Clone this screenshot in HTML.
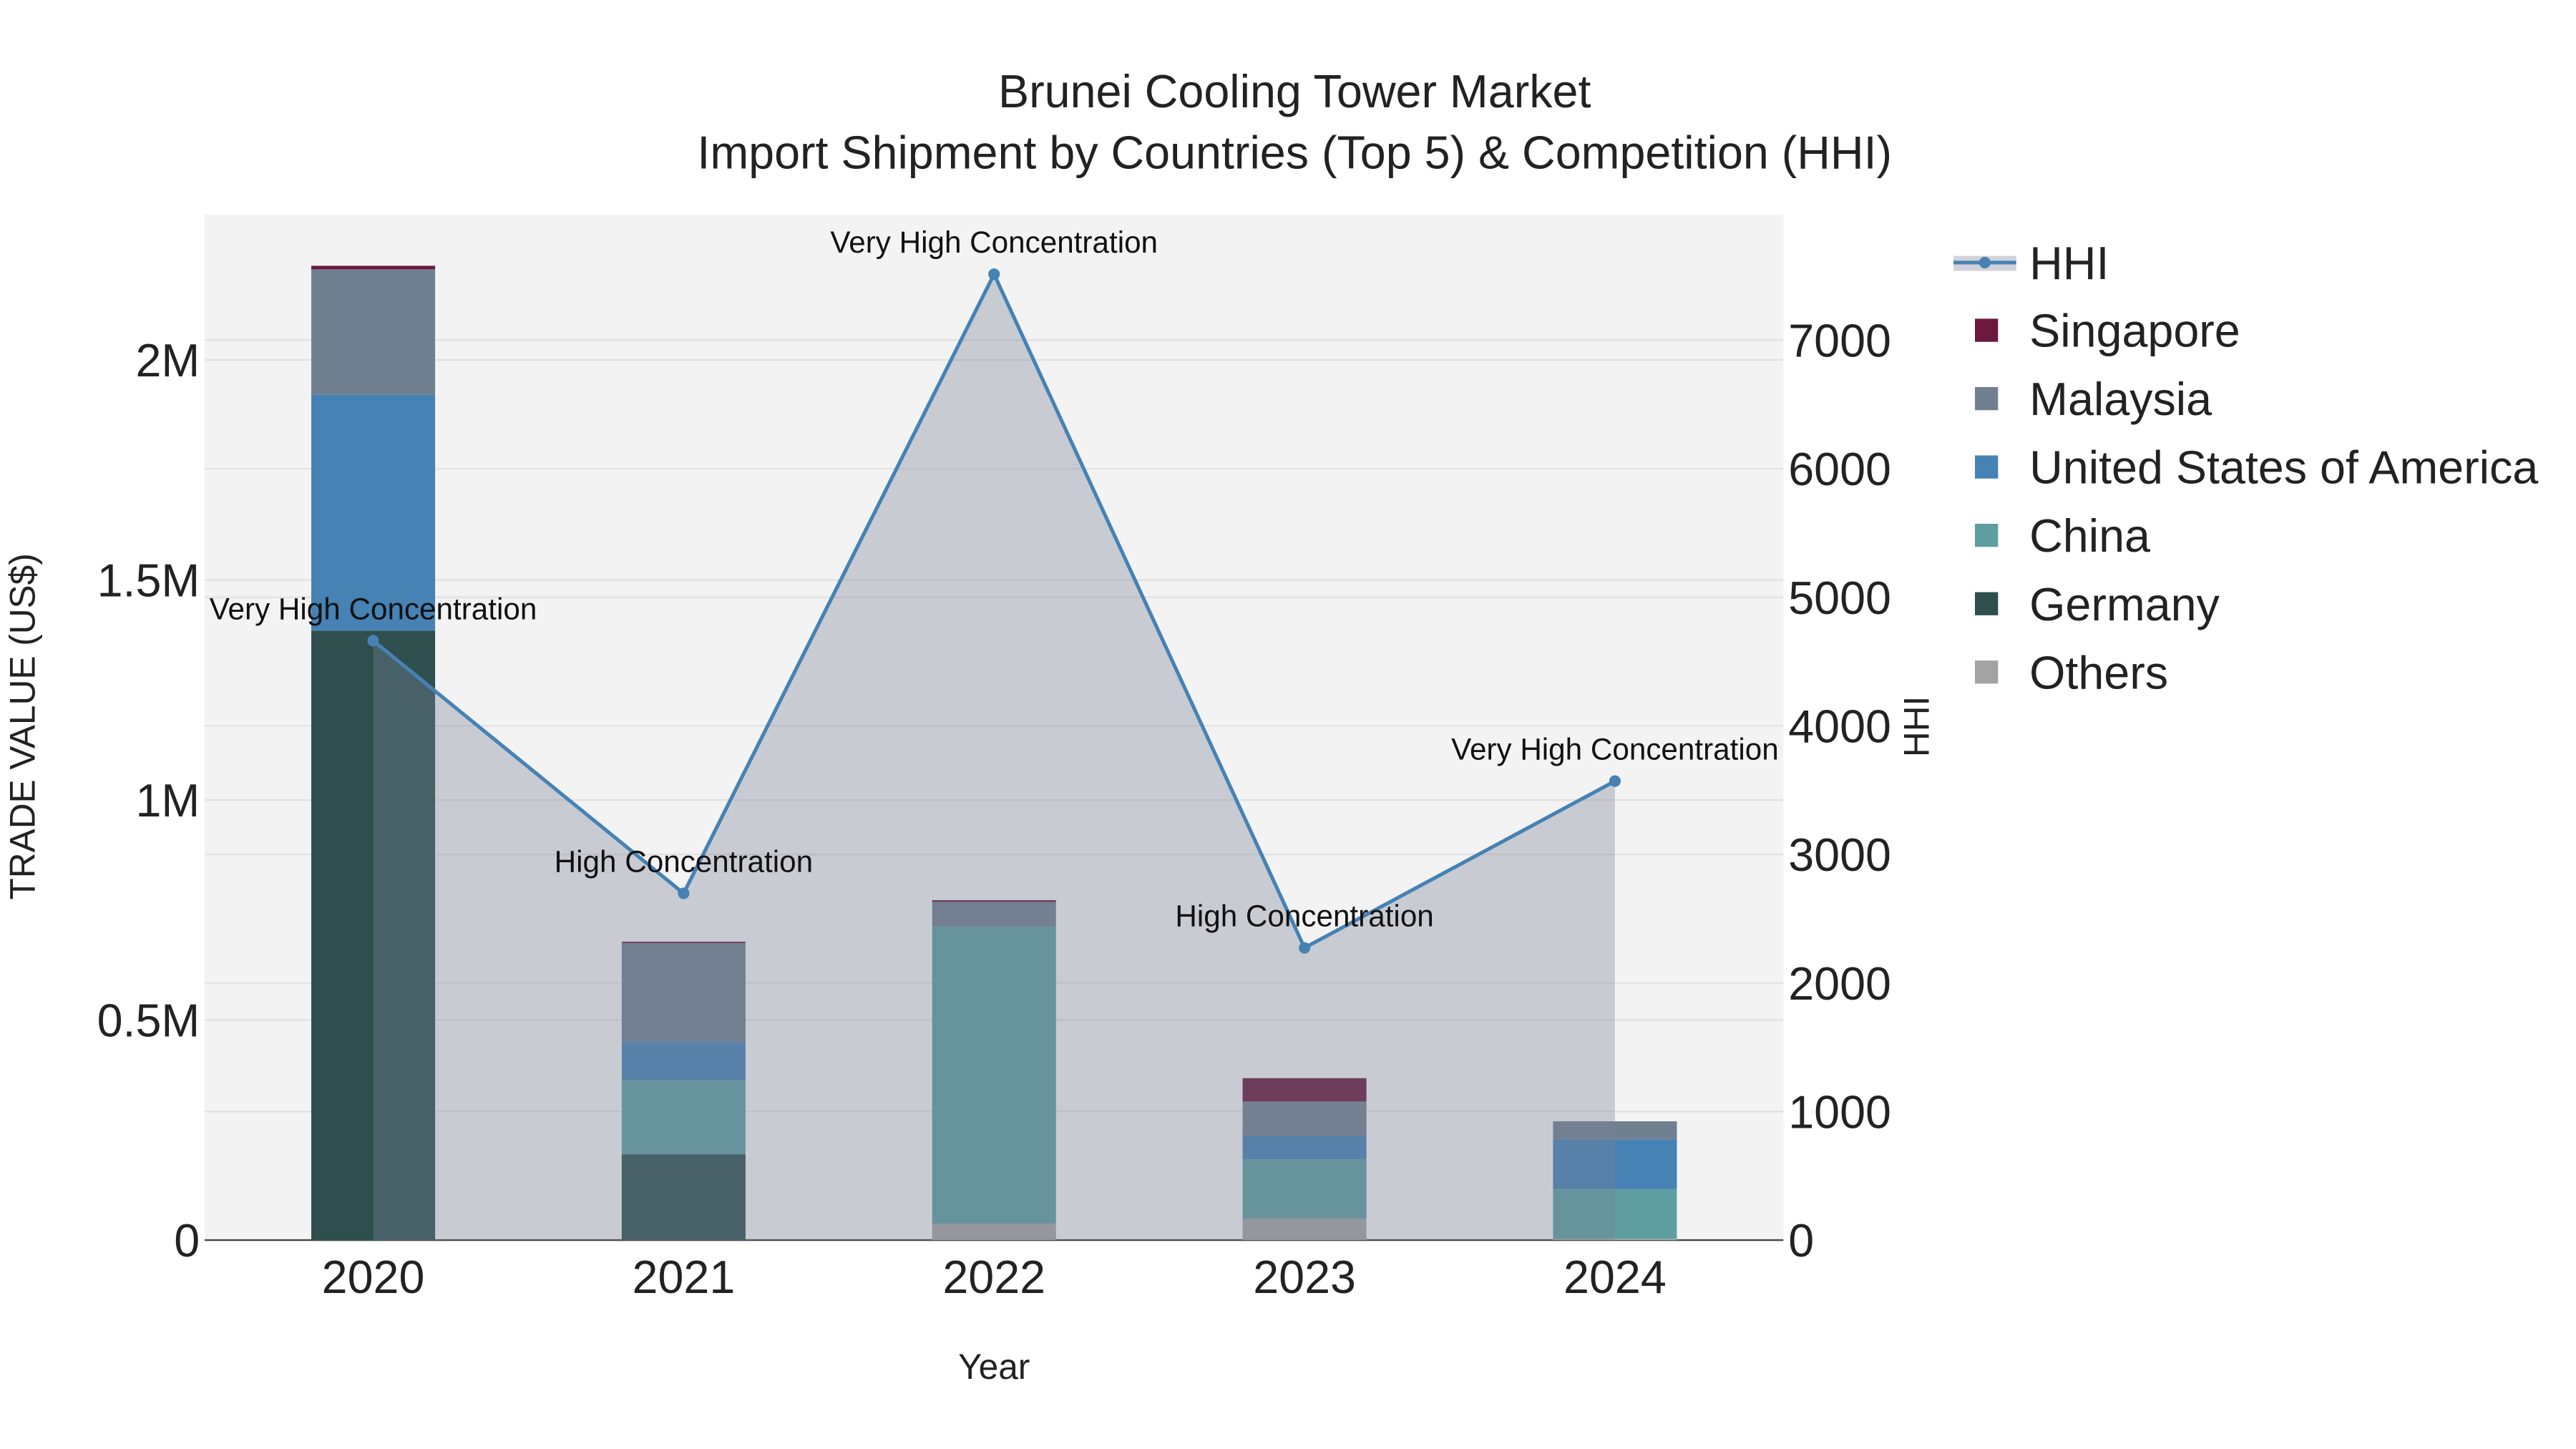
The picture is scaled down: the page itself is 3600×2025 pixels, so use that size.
<!DOCTYPE html>
<html><head><meta charset="utf-8"><style>
html,body{margin:0;padding:0;background:#fff;}
svg{display:block;font-family:"Liberation Sans",sans-serif;}
</style></head><body>
<svg id="chart" width="3600" height="2025" viewBox="0 0 1560 877.5" xmlns="http://www.w3.org/2000/svg">
<rect x="0" y="0" width="1560" height="877.5" fill="#fff"/>
<rect x="124" y="130" width="956" height="621" fill="#f3f3f3"/>
<g id="grid"></g>
<g id="bars"></g>
<g id="hhi"></g>
<g id="axes"></g>
<text x="784" y="65" text-anchor="middle" font-size="28" fill="#222">Brunei Cooling Tower Market</text>
<text x="784" y="102" text-anchor="middle" font-size="28" fill="#222">Import Shipment by Countries (Top 5) &amp; Competition (HHI)</text>
<text x="602" y="835" text-anchor="middle" font-size="21.5" fill="#222">Year</text>
<text transform="translate(21,440) rotate(-90)" text-anchor="middle" font-size="21.5" fill="#222">TRADE VALUE (US$)</text>
<text transform="translate(1168,440) rotate(-90)" text-anchor="middle" font-size="21.5" fill="#222">HHI</text>
<g id="legend"></g>
</svg>
<script>
const years = ["2020","2021","2022","2023","2024"];
const others = [0, 0, 0.0375, 0.049, 0.003];
const germany = [1.385, 0.195, 0, 0, 0];
const china = [0, 0.169, 0.675, 0.135, 0.113];
const usa = [0.536, 0.086, 0, 0.052, 0.113];
const malaysia = [0.285, 0.225, 0.056, 0.079, 0.041];
const singapore = [0.008, 0.003, 0.004, 0.053, 0];
const hhi = [4662, 2697, 7513, 2273, 3570];
const hhiLabels = ["Very High Concentration","High Concentration","Very High Concentration","High Concentration","Very High Concentration"];
const yTicks = [0, 0.5, 1, 1.5, 2];
const yTickLabels = ["0","0.5M","1M","1.5M","2M"];
const y2Ticks = [0,1000,2000,3000,4000,5000,6000,7000];

const NS="http://www.w3.org/2000/svg";
const X0=124,X1=1080,Y0=751,Y1=130;
const catW=188;
function xc(i){return 226+catW*i;}
function y(v){return Y0-v*266.5;}
function y2(v){return Y0-v*0.07786;}
function mk(tag,attrs,parent){const e=document.createElementNS(NS,tag);for(const k in attrs)e.setAttribute(k,attrs[k]);parent.appendChild(e);return e;}

const grid=document.getElementById('grid');
yTicks.forEach(t=>{const l=mk('line',{x1:X0,x2:X1,y1:y(t),y2:y(t),stroke:t===0?'#444':'#e2e2e2','stroke-width':1},grid);

});
y2Ticks.forEach(t=>{if(t===0)return;const l=mk('line',{x1:X0,x2:X1,y1:y2(t),y2:y2(t),stroke:'#e2e2e2','stroke-width':1},grid);

});

const series=[["Others",others,"#a3a3a3"],["Germany",germany,"#2f4f4f"],["China",china,"#5f9ea0"],["United States of America",usa,"#4682b4"],["Malaysia",malaysia,"#708090"],["Singapore",singapore,"#6b1a3e"]];
const bars=document.getElementById('bars');
const bw=75;
years.forEach((yr,i)=>{let acc=0;series.forEach(s=>{const v=s[1][i];if(v<=0)return;
const r=mk('rect',{x:xc(i)-bw/2,y:y(acc+v),width:bw,height:y(acc)-y(acc+v),fill:s[2]},bars);


acc+=v;});});

const g=document.getElementById('hhi');
let pts=years.map((_,i)=>xc(i)+','+y2(hhi[i])).join(' ');
const area=mk('polygon',{points:xc(0)+','+Y0+' '+pts+' '+xc(years.length-1)+','+Y0,fill:'rgba(120,130,150,0.35)'},g);


const line=mk('polyline',{points:pts,fill:'none',stroke:'#4682b4','stroke-width':2.2},g);


years.forEach((yr,i)=>{const c=mk('circle',{cx:xc(i),cy:y2(hhi[i]),r:3.5,fill:'#4682b4'},g);


const t=mk('text',{x:xc(i),y:y2(hhi[i])-13,'text-anchor':'middle','font-size':18.3,fill:'#111'},g);t.textContent=hhiLabels[i];

});

const ax=document.getElementById('axes');
years.forEach((yr,i)=>{const t=mk('text',{x:xc(i),y:783,'text-anchor':'middle','font-size':28,fill:'#222'},ax);t.textContent=yr;

});
yTicks.forEach((v,i)=>{const t=mk('text',{x:121,y:y(v)+10,'text-anchor':'end','font-size':28,fill:'#222'},ax);t.textContent=yTickLabels[i];

});
y2Ticks.forEach(v=>{const t=mk('text',{x:1083,y:y2(v)+10,'text-anchor':'start','font-size':28,fill:'#222'},ax);t.textContent=v;

});

const lg=document.getElementById('legend');
const h1=mk('rect',{x:1183,y:155,width:38,height:9,fill:'rgba(120,130,150,0.35)'},lg);


const h2=mk('line',{x1:1183,x2:1221,y1:159,y2:159,stroke:'#4682b4','stroke-width':2.2},lg);


const h3=mk('circle',{cx:1202,cy:159,r:3.5,fill:'#4682b4'},lg);


const ht=mk('text',{x:1229,y:169,'font-size':28,fill:'#222'},lg);ht.textContent='HHI';


const legOrder=[5,4,3,2,1,0];
legOrder.forEach((si,k)=>{const s=series[si];const cy=200+k*41.4;
const r=mk('rect',{x:1196,y:cy-7,width:14,height:14,fill:s[2]},lg);


const t=mk('text',{x:1229,y:cy+10,'font-size':28,fill:'#222'},lg);t.textContent=s[0];

});
</script>
</body></html>
